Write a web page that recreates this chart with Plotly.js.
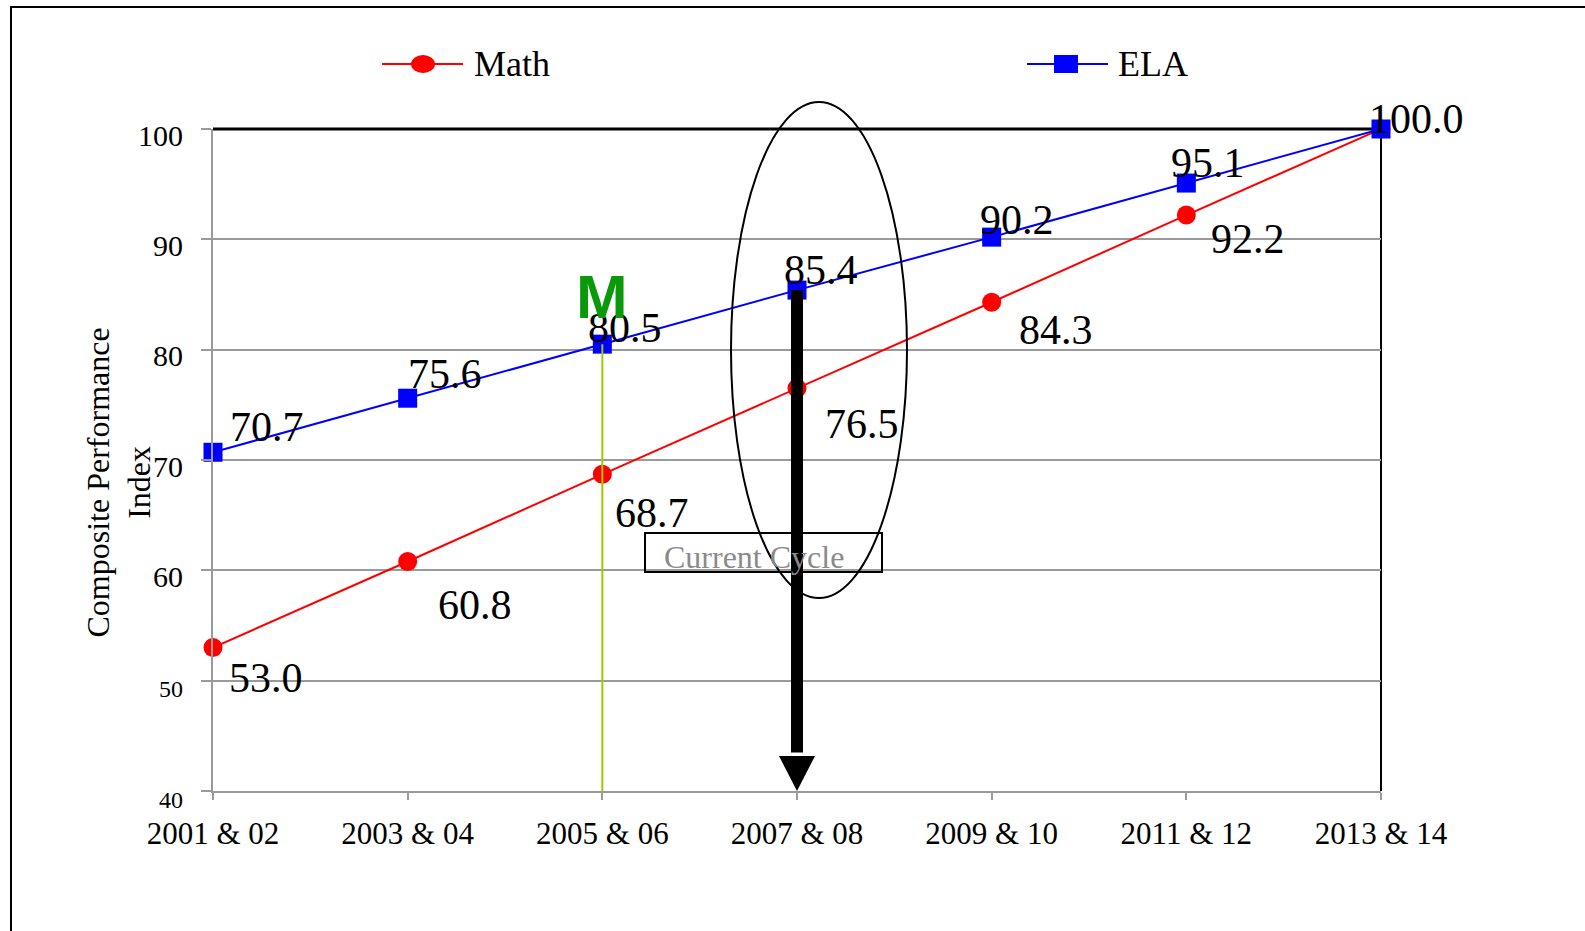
<!DOCTYPE html>
<html><head><meta charset="utf-8">
<script src="https://cdn.plot.ly/plotly-3.0.1.min.js"></script>
<style>html,body{margin:0;padding:0;background:#fff;overflow:hidden}</style>
</head><body><div id="chart" style="width:1585px;height:931px"></div>
<script>
// ---- data ----
const categories = ["2001 & 02","2003 & 04","2005 & 06","2007 & 08","2009 & 10","2011 & 12","2013 & 14"];
const mathValues = [53.0, 60.8, 68.7, 76.5, 84.3, 92.2, 100.0];
const elaValues  = [70.7, 75.6, 80.5, 85.4, 90.2, 95.1, 100.0];
const yTickValues = [40, 50, 60, 70, 80, 90, 100];
const yTickLabels = ["40", "50", "60", "70", "80", "90", "100"];
const seriesNames = ["Math", "ELA"];
const markText = "M";
const cycleText = "Current Cycle";
const yTitleText = "Composite Performance<br>Index";

// ---- style: pixel nudges of the value labels (as placed in the original) ----
const mathLabelNudge = [[14,-30],[28,-43],[11,-39],[26,-36],[25,-28],[23,-24]];
const elaLabelNudge  = [[15,25],[-2,24],[-16,16],[-15,20],[-14,17],[-17,20],[-14,10]];

// ---- layout geometry ----
const W = 1585, H = 931, ML = 213, MR = 204, MT = 129, MB = 140;
const PW = W - ML - MR, PH = H - MT - MB;
const px = x => (x - ML) / PW;          // pixel -> paper x
const py = y => (H - MB - y) / PH;      // pixel -> paper y
const SERIF = "Liberation Serif, Times New Roman, serif";
const GRID = "#9a9a9a";

const mathTrace = {
  x: categories, y: mathValues, name: seriesNames[0], type: "scatter", mode: "lines+markers",
  line: {color: "#ff0000", width: 2}, marker: {color: "#ff0000", size: 19, symbol: "circle"},
  cliponaxis: false, showlegend: false
};
const elaTrace = {
  x: categories, y: elaValues, name: seriesNames[1], type: "scatter", mode: "lines+markers",
  line: {color: "#0000ff", width: 2}, marker: {color: "#0000ff", size: 19, symbol: "square"},
  cliponaxis: false, showlegend: false
};

const annotations = [];
// data labels (the Math 100.0 label sits hidden behind the ELA one)
mathLabelNudge.forEach((n, i) => {
  annotations.push({x: categories[i], y: mathValues[i], xref: "x", yref: "y", text: mathValues[i].toFixed(1), showarrow: false,
    xanchor: "left", yanchor: "middle", xshift: n[0], yshift: n[1], font: {family: SERIF, size: 42, color: "#000"}});
});
elaLabelNudge.forEach((n, i) => {
  annotations.push({x: categories[i], y: elaValues[i], xref: "x", yref: "y", text: elaValues[i].toFixed(1), showarrow: false,
    xanchor: "left", yanchor: "middle", xshift: n[0], yshift: n[1], font: {family: SERIF, size: 42, color: "#000"}});
});
// M
annotations.push({x: categories[2], y: elaValues[2], xref: "x", yref: "y", text: "<b>" + markText + "</b>", showarrow: false,
  xanchor: "center", yanchor: "middle", yshift: 48, font: {family: "Liberation Sans, Arial, sans-serif", size: 62, color: "#0a990a"}});
// Current cycle text
annotations.push({x: px(754), y: py(557), xref: "paper", yref: "paper", text: cycleText, showarrow: false,
  xanchor: "center", yanchor: "middle", font: {family: SERIF, size: 32, color: "#8a8a8a"}});
// y title
annotations.push({x: px(118.5), y: py(483), xref: "paper", yref: "paper", text: yTitleText, showarrow: false,
  textangle: -90, xanchor: "center", yanchor: "middle", font: {family: SERIF, size: 32, color: "#000"}});
// legend text
annotations.push({x: px(472), y: py(64), xref: "paper", yref: "paper", text: seriesNames[0], showarrow: false,
  xanchor: "left", yanchor: "middle", font: {family: SERIF, size: 36, color: "#000"}});
annotations.push({x: px(1116), y: py(64), xref: "paper", yref: "paper", text: seriesNames[1], showarrow: false,
  xanchor: "left", yanchor: "middle", font: {family: SERIF, size: 36, color: "#000"}});

const shapes = [
  // outer frame
  {type: "path", xref: "paper", yref: "paper", layer: "above",
   path: `M${px(11)},${py(940)} L${px(11)},${py(7)} L${px(1600)},${py(7)}`, line: {color: "#000", width: 2}},
  // plot top and right borders
  {type: "line", xref: "paper", yref: "paper", x0: 0, x1: 1, y0: 1, y1: 1, layer: "between", line: {color: "#000", width: 3}},
  {type: "line", xref: "paper", yref: "paper", x0: 1, x1: 1, y0: 0, y1: 1, layer: "between", line: {color: "#000", width: 2}},
  // green marker line
  {type: "line", xref: "x", yref: "y", x0: categories[2], x1: categories[2], y0: yTickValues[0], y1: elaValues[2],
   layer: "above", line: {color: "#99cc00", width: 2}},
  // current cycle box
  {type: "rect", xref: "paper", yref: "paper", x0: px(645), x1: px(882), y0: py(572), y1: py(533),
   layer: "above", line: {color: "#000", width: 2}, fillcolor: "rgba(0,0,0,0)"},
  // ellipse
  {type: "circle", xref: "paper", yref: "paper", x0: px(731), x1: px(907), y0: py(598), y1: py(102),
   layer: "above", line: {color: "#000", width: 2}, fillcolor: "rgba(0,0,0,0)"},
  // arrow shaft
  {type: "rect", xref: "x", yref: "y", xsizemode: "pixel", xanchor: categories[3], x0: -6, x1: 6,
   y0: 43.5, y1: elaValues[3], layer: "above", line: {width: 0}, fillcolor: "#000"},
  // arrow head
  {type: "path", xref: "x", yref: "y", xsizemode: "pixel", ysizemode: "pixel", xanchor: categories[3], yanchor: yTickValues[0],
   path: "M-18,35 L18,35 L0,0 Z", layer: "above", line: {width: 0}, fillcolor: "#000"},
  // legend lines + markers
  {type: "line", xref: "paper", yref: "paper", x0: px(382), x1: px(463), y0: py(64), y1: py(64), line: {color: "#ff0000", width: 2}},
  {type: "circle", xref: "paper", yref: "paper", xsizemode: "pixel", ysizemode: "pixel", xanchor: px(423), yanchor: py(64),
   x0: -12, x1: 12, y0: -9, y1: 9, line: {width: 0}, fillcolor: "#ff0000"},
  {type: "line", xref: "paper", yref: "paper", x0: px(1027), x1: px(1108), y0: py(64), y1: py(64), line: {color: "#0000ff", width: 2}},
  {type: "rect", xref: "paper", yref: "paper", xsizemode: "pixel", ysizemode: "pixel", xanchor: px(1066), yanchor: py(64),
   x0: -12, x1: 12, y0: -9, y1: 9, line: {width: 0}, fillcolor: "#0000ff"}
];

const yTickText = yTickLabels.map((t, i) => yTickValues[i] <= 50 ? `<span style="font-size:24px">${t}</span>` : t);

const layout = {
  width: W, height: H, margin: {l: ML, r: MR, t: MT, b: MB, pad: 0},
  paper_bgcolor: "#fff", plot_bgcolor: "#fff", showlegend: false,
  font: {family: SERIF, color: "#000"},
  xaxis: {type: "category", range: [0, categories.length - 1], showgrid: false, zeroline: false,
    showline: true, linecolor: GRID, linewidth: 2, ticks: "outside", ticklen: 7, tickwidth: 2, tickcolor: GRID,
    tickfont: {family: SERIF, size: 31, color: "#000"}, ticklabelstandoff: 7, fixedrange: true},
  yaxis: {range: [yTickValues[0], yTickValues[yTickValues.length - 1]], tickvals: yTickValues, ticktext: yTickText,
    showgrid: true, gridcolor: GRID, gridwidth: 2, zeroline: false,
    showline: true, linecolor: GRID, linewidth: 2, ticks: "outside", ticklen: 10, tickwidth: 2, tickcolor: GRID,
    tickfont: {family: SERIF, size: 30, color: "#000"}, ticklabelstandoff: 12, ticklabelshift: 6, fixedrange: true},
  annotations: annotations, shapes: shapes
};

Plotly.newPlot("chart", [mathTrace, elaTrace], layout, {displayModeBar: false, staticPlot: true});
</script></body></html>
